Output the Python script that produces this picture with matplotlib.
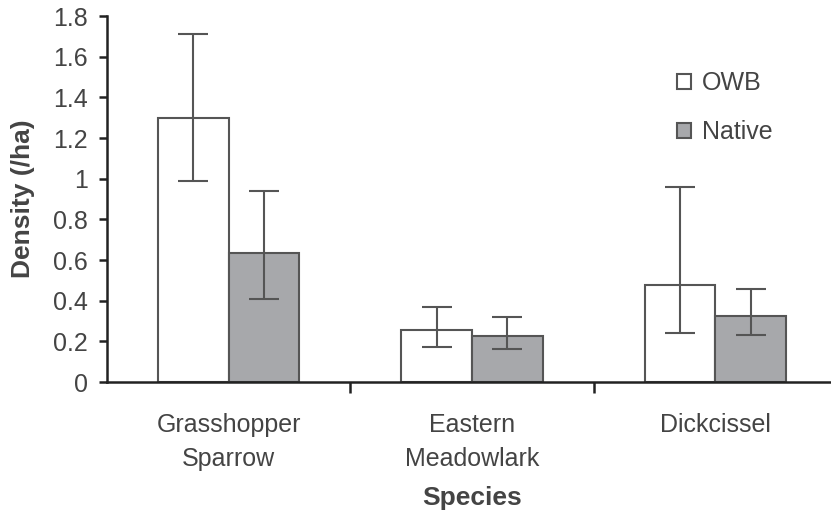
import numpy as np
import matplotlib.pyplot as plt

plt.rcParams['font.family'] = ['Liberation Sans', 'DejaVu Sans']

species = ['Grasshopper\nSparrow', 'Eastern\nMeadowlark', 'Dickcissel']
owb = [1.30, 0.257, 0.475]
owb_lo = [0.99, 0.17, 0.24]
owb_hi = [1.71, 0.37, 0.96]
native = [0.633, 0.227, 0.326]
native_lo = [0.41, 0.16, 0.23]
native_hi = [0.94, 0.32, 0.46]

txt = '#444444'
edge = '#555555'

fig = plt.figure(figsize=(8.31, 5.18), dpi=100)
ax = fig.add_axes([0.1288, 0.2625, 0.8784, 0.7065])

x = np.arange(len(species))
w = 0.29
err_owb = [np.array(owb) - np.array(owb_lo), np.array(owb_hi) - np.array(owb)]
err_nat = [np.array(native) - np.array(native_lo), np.array(native_hi) - np.array(native)]

ax.bar(x - w / 2, owb, w, color='white', edgecolor=edge, linewidth=1.5, label='OWB',
       yerr=err_owb, error_kw=dict(ecolor=edge, elinewidth=1.5, capsize=11, capthick=1.5))
ax.bar(x + w / 2, native, w, color='#a7a8ab', edgecolor=edge, linewidth=1.5, label='Native',
       yerr=err_nat, error_kw=dict(ecolor=edge, elinewidth=1.5, capsize=11, capthick=1.5))

ax.set_xlim(-0.5, 2.5)
ax.set_ylim(0, 1.8)
ax.set_yticks(np.arange(0, 1.81, 0.2))
ax.set_yticklabels(['0', '0.2', '0.4', '0.6', '0.8', '1', '1.2', '1.4', '1.6', '1.8'])

ax.set_xticks([0.5, 1.5])
ax.set_xticklabels([])
ax.set_xticks(x, minor=True)
ax.set_xticklabels(species, minor=True, fontsize=18, color=txt, linespacing=1.55)
ax.tick_params(axis='x', which='minor', length=0, pad=22)
ax.tick_params(axis='x', which='major', length=8, width=1.8, color='#222222', direction='out')
ax.tick_params(axis='y', length=6, width=1.8, color='#222222', labelsize=18, labelcolor=txt, pad=8)

for s in ['top', 'right']:
    ax.spines[s].set_visible(False)
for s in ['left', 'bottom']:
    ax.spines[s].set_linewidth(1.8)
    ax.spines[s].set_color('#222222')

ax.set_ylabel('Density (/ha)', fontsize=19, fontweight='bold', color=txt)
ax.set_xlabel('Species', fontsize=19, fontweight='bold', color=txt)
ax.yaxis.set_label_coords(-0.098, 0.5)
ax.xaxis.set_label_coords(0.5, -0.285)

ax.legend(loc='upper left', bbox_to_anchor=(0.75, 0.91), frameon=False, fontsize=18,
          handlelength=0.55, handleheight=0.55, handletextpad=0.45, labelspacing=1.0,
          labelcolor=txt)

fig.savefig('out.png', dpi=100)
